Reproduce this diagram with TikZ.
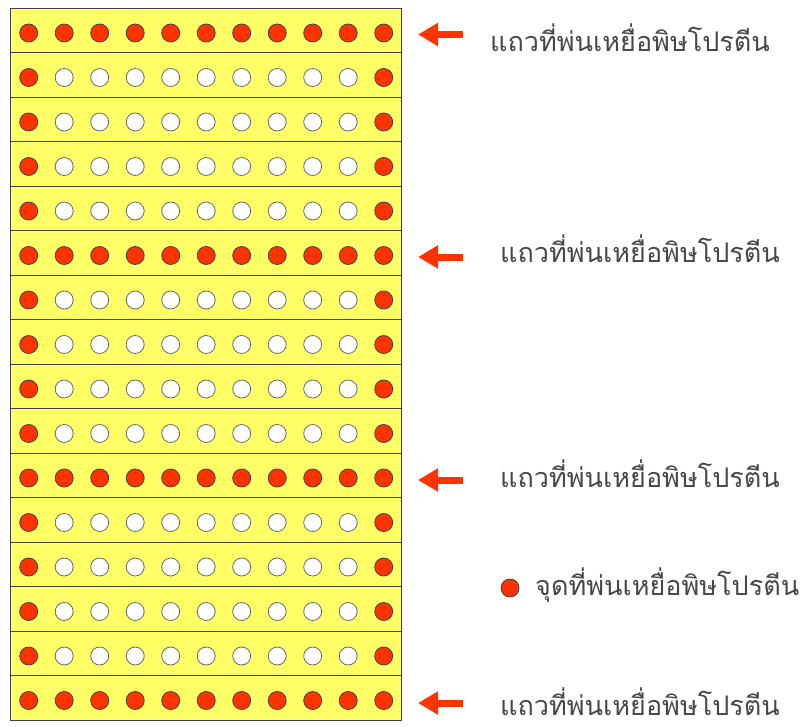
\documentclass[tikz,border=0pt]{standalone}
\usepackage{fontspec}
\newfontfamily\thaifont[Script=Thai]{Loma}
\usetikzlibrary{arrows.meta}
\definecolor{rowyellow}{HTML}{FFFF66}
\definecolor{dotred}{HTML}{FF3300}
\definecolor{edgegray}{HTML}{404040}
\definecolor{txtgray}{HTML}{474747}
\tikzset{
  rowbox/.style={draw=edgegray, fill=rowyellow, line width=0.9pt},
  reddot/.style={circle, draw=edgegray, fill=dotred, line width=0.8pt, minimum size=18pt, inner sep=0pt},
  whitedot/.style={circle, draw=edgegray!80, fill=white, line width=0.8pt, minimum size=18pt, inner sep=0pt},
  pointer/.style={draw=dotred, line width=7pt, -{Triangle[length=20pt,width=22pt]}},
  label/.style={font=\thaifont\fontsize{27}{32}\selectfont, text=txtgray, anchor=base west, inner sep=0pt}
}
\begin{document}
\begin{tikzpicture}[x=1pt,y=-1pt]
\useasboundingbox (0,0) rectangle (810,727);
\foreach \r in {0,...,15}{
  \pgfmathsetmacro{\ytop}{8+\r*44.5}
  \path[rowbox] (10.5,\ytop) rectangle (401,\ytop+44.5);
  \pgfmathsetmacro{\yc}{\ytop+25}
  \foreach \c in {0,...,10}{
    \pgfmathsetmacro{\xc}{28.7+\c*35.5}
    \pgfmathtruncatemacro{\isred}{(\c==0 || \c==10 || \r==0 || \r==5 || \r==10 || \r==15) ? 1 : 0}
    \ifnum\isred=1
      \node[reddot] (d\r-\c) at (\xc,\yc) {};
    \else
      \node[whitedot] (d\r-\c) at (\xc,\yc) {};
    \fi
  }
}
\coordinate (a1s) at (463,34.5);
\coordinate (a1e) at (418,34.5);
\coordinate (a2s) at (463,257);
\coordinate (a2e) at (418,257);
\coordinate (a3s) at (463,480);
\coordinate (a3e) at (418,480);
\coordinate (a4s) at (463,703);
\coordinate (a4e) at (418,703);
\draw[pointer] (a1s) -- (a1e);
\draw[pointer] (a2s) -- (a2e);
\draw[pointer] (a3s) -- (a3e);
\draw[pointer] (a4s) -- (a4e);
\node[label] (t1) at (490,52) {แถวที่พ่นเหยื่อพิษโปรตีน};
\node[label] (t2) at (500,262.5) {แถวที่พ่นเหยื่อพิษโปรตีน};
\node[label] (t3) at (500,487) {แถวที่พ่นเหยื่อพิษโปรตีน};
\node[label] (t4) at (500,715.5) {แถวที่พ่นเหยื่อพิษโปรตีน};
\node[reddot] (legdot) at (510,588) {};
\node[label] (legtxt) at (535,595) {จุดที่พ่นเหยื่อพิษโปรตีน};
\end{tikzpicture}
\end{document}
